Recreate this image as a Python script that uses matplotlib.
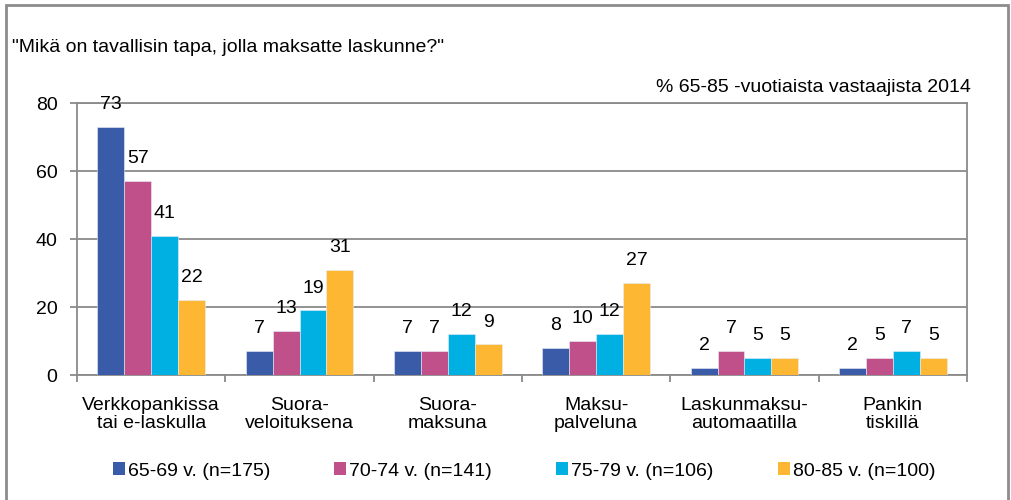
import matplotlib
matplotlib.use("Agg")
import matplotlib.pyplot as plt
from matplotlib.patches import Rectangle, Patch
import numpy as np

categories = ["Verkkopankissa\ntai e-laskulla", "Suora-\nveloituksena", "Suora-\nmaksuna",
              "Maksu-\npalveluna", "Laskunmaksu-\nautomaatilla", "Pankin\ntiskillä"]
series_names = ["65-69 v. (n=175)", "70-74 v. (n=141)", "75-79 v. (n=106)", "80-85 v. (n=100)"]
v_65_69 = [73, 7, 7, 8, 2, 2]
v_70_74 = [57, 13, 7, 10, 7, 5]
v_75_79 = [41, 19, 12, 12, 5, 7]
v_80_85 = [22, 31, 9, 27, 5, 5]
series_values = [v_65_69, v_70_74, v_75_79, v_80_85]
colors = ["#3A5BA8", "#C0508A", "#00B0E2", "#FDB733"]
yticks = [0, 20, 40, 60, 80]

plt.rcParams['font.family'] = ['Liberation Sans', 'DejaVu Sans']
FS = 14

fig = plt.figure(figsize=(10.12, 5.0), dpi=100)
W, H = 1012, 500
ax = fig.add_axes([77 / W, 1 - 375 / H, (967 - 77) / W, (375 - 103) / H])

x = np.arange(len(categories))
bw = 0.182
for i, (vals, c) in enumerate(zip(series_values, colors)):
    pos = x + (i - 1.5) * bw
    bars = ax.bar(pos, vals, width=bw, color=c, edgecolor="#e8eef8", linewidth=0.4, zorder=3)
    for b, v in zip(bars, vals):
        ax.annotate(str(v), (b.get_x() + b.get_width() / 2, v), xytext=(0, 16),
                    textcoords="offset points", ha="center", va="center", fontsize=FS, zorder=4)

ax.set_xlim(-0.5, len(categories) - 0.5)
ax.set_ylim(0, 80)
ax.set_yticks(yticks)
ax.set_yticklabels([str(t) for t in yticks], fontsize=FS)
ax.yaxis.grid(True, color="#8a8a8a", linewidth=1.3, zorder=0)
ax.set_axisbelow(True)

ax.set_xticks(np.arange(len(categories) + 1) - 0.5)
ax.set_xticklabels([])
ax.set_xticks(x, minor=True)
ax.set_xticklabels(categories, minor=True, fontsize=FS, linespacing=1.05)
ax.tick_params(axis="x", which="minor", length=0, pad=16)
ax.tick_params(axis="x", which="major", length=5, width=1.3, color="#8a8a8a")
ax.tick_params(axis="y", length=5, width=1.3, color="#8a8a8a", pad=9)

for s in ["left", "bottom", "top", "right"]:
    ax.spines[s].set_color("#8a8a8a")
    ax.spines[s].set_linewidth(1.3)

fig.text(12 / W, 1 - 47 / H, '"Mikä on tavallisin tapa, jolla maksatte laskunne?"',
         ha="left", va="center", fontsize=FS)
fig.text(971 / W, 1 - 88 / H, "% 65-85 -vuotiaista vastaajista 2014",
         ha="right", va="center", fontsize=FS)

handles = [Patch(facecolor=c, edgecolor="none") for c in colors]
fig.legend(handles, series_names, loc="center", bbox_to_anchor=(524 / W, 1 - 471 / H), ncol=4,
           frameon=False, fontsize=FS, handlelength=0.62, handleheight=0.62,
           handletextpad=0.15, columnspacing=3.3)

fig.patches.append(Rectangle((6 / W, -0.05), (1008 - 6) / W, 1.05 - 5 / H,
                             transform=fig.transFigure, fill=False,
                             edgecolor="#8c8c8c", linewidth=2))

fig.savefig("out.png", dpi=100)
